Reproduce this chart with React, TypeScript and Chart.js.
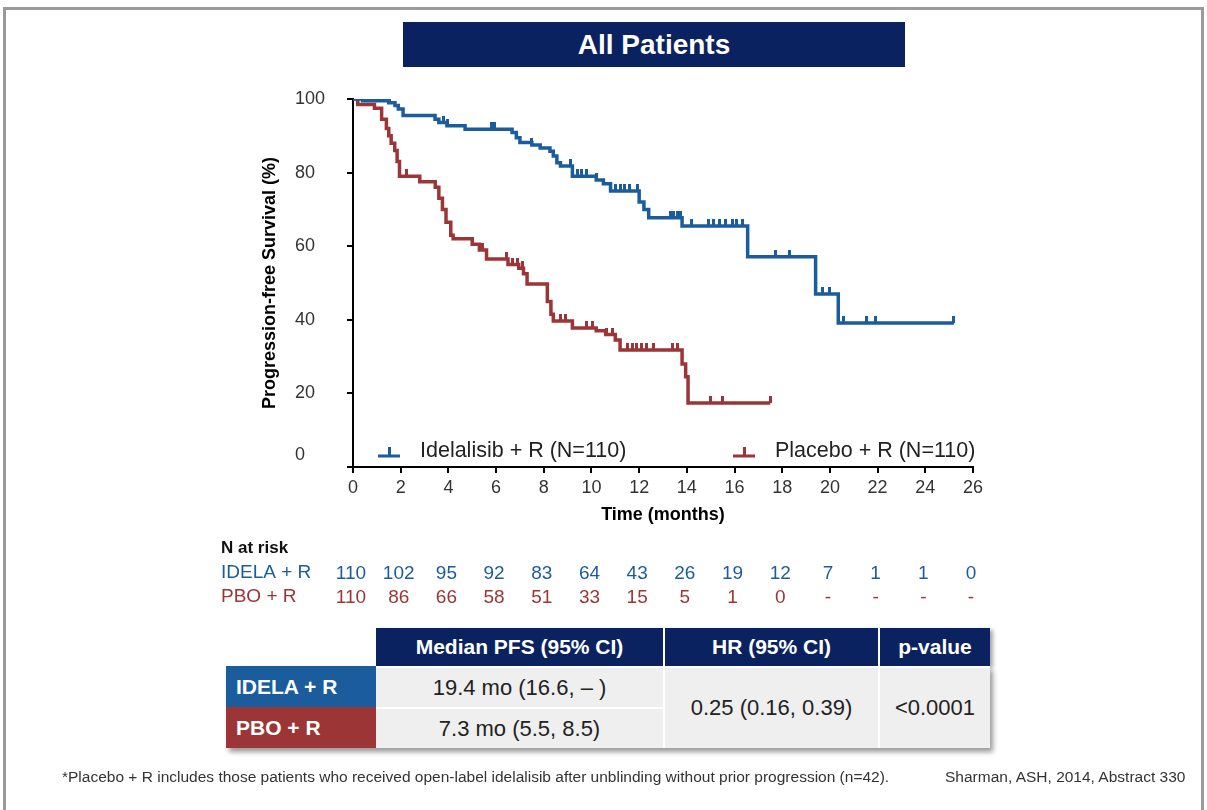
import React, { useEffect, useRef } from 'react';
import { Chart, registerables } from 'chart.js';

Chart.register(...registerables);

const FONT = "'Liberation Sans', Arial, Helvetica, sans-serif";
const BLUE = '#1b5c9c';
const RED = '#9c3535';
const NAVY = '#0b2261';
const GRAY_CELL = '#efefef';

// ---- Data ----
const xTickValues = [0, 2, 4, 6, 8, 10, 12, 14, 16, 18, 20, 22, 24, 26];
const yTickValues = [0, 20, 40, 60, 80, 100];

const idelaTimes = [0, 0.4, 1.5, 1.76, 1.9, 2.1, 3.44, 3.6, 3.94, 4.7, 6.67, 6.85, 7.0, 7.5, 7.85, 8.26, 8.4, 8.55, 8.7, 9.2, 10.2, 10.5, 10.8, 12.0, 12.2, 12.4, 13.8, 16.55, 19.4, 20.35, 25.2];
const idelaSurv = [100, 99.5, 99.0, 98.2, 97.3, 95.5, 94.5, 93.6, 92.7, 91.8, 90.9, 89.5, 88.2, 87.5, 86.7, 85.8, 84.5, 82.7, 81.8, 79.0, 78.0, 77.0, 75.0, 72.0, 70.0, 67.7, 65.5, 57.1, 47.0, 39.1, 39.1];

const pboTimes = [0, 0.2, 0.9, 1.2, 1.4, 1.5, 1.6, 1.75, 1.85, 1.95, 2.8, 3.45, 3.6, 3.75, 3.9, 4.1, 4.2, 5.0, 5.3, 5.6, 6.5, 6.95, 7.15, 7.3, 8.15, 8.3, 8.4, 9.2, 10.2, 10.6, 11.0, 11.2, 13.8, 13.95, 14.05, 17.5];
const pboSurv = [100, 98.5, 97.5, 94.5, 92, 90, 88, 86, 83, 79, 77.5, 76, 73, 70, 66.5, 63, 62, 60.5, 59, 56.5, 55, 54, 52.5, 49.7, 45, 41.5, 39.7, 37.8, 37, 36, 34.5, 31.8, 28, 24.5, 17.4, 17.4];

const idelaCensor = [0.15, 0.3, 1.0, 1.3, 1.55, 3.8, 3.95, 5.8, 5.95, 7.5, 9.1, 9.4, 9.6, 9.8, 10.2, 11.0, 11.2, 11.4, 11.6, 11.95, 13.3, 13.45, 13.6, 13.75, 14.2, 14.9, 15.1, 15.35, 15.6, 15.9, 16.1, 16.35, 17.7, 18.3, 19.7, 20.0, 20.55, 21.55, 21.9, 25.2];
const pboCensor = [2.25, 5.0, 5.45, 6.45, 6.7, 6.9, 7.1, 8.7, 8.9, 9.2, 9.8, 10.05, 10.65, 10.9, 11.5, 11.7, 11.9, 12.1, 12.3, 12.6, 13.4, 13.6, 15.0, 15.5, 17.5];

const seriesLabels = ['Idelalisib + R (N=110)', 'Placebo + R (N=110)'];
const riskRowLabels = ['IDELA + R', 'PBO + R'];
const riskIdela = ['110', '102', '95', '92', '83', '64', '43', '26', '19', '12', '7', '1', '1', '0'];
const riskPbo = ['110', '86', '66', '58', '51', '33', '15', '5', '1', '0', '-', '-', '-', '-'];

const tableHeaders = ['Median PFS (95% CI)', 'HR (95% CI)', 'p-value'];
const tableRows = ['IDELA + R', 'PBO + R'];
const tableMedians = ['19.4 mo (16.6, \u2013 )', '7.3 mo (5.5, 8.5)'];
const tableHR = '0.25 (0.16, 0.39)';
const tableP = '<0.0001';

function stepValue(times: number[], surv: number[], t: number) {
  let v = surv[0];
  for (let i = 0; i < times.length; i++) {
    if (times[i] <= t) v = surv[i];
  }
  return v;
}

function makeTick(color: string) {
  const c = document.createElement('canvas');
  c.width = 3;
  c.height = 14;
  const g = c.getContext('2d')!;
  g.fillStyle = color;
  g.fillRect(0, 0, 3, 7);
  return c;
}

const extrasPlugin = {
  id: 'kmExtras',
  afterDraw(chart: any) {
    const ctx = chart.ctx;
    const ca = chart.chartArea;
    const xs = chart.scales.x;
    const ys = chart.scales.y;
    ctx.save();

    // y-axis title
    ctx.save();
    ctx.translate(270, (ca.top + ca.bottom) / 2);
    ctx.rotate(-Math.PI / 2);
    ctx.font = `bold 18px ${FONT}`;
    ctx.fillStyle = '#000';
    ctx.textAlign = 'center';
    ctx.textBaseline = 'middle';
    ctx.fillText('Progression-free Survival (%)', 0, 0);
    ctx.restore();

    // y "0" label (raised in reference)
    ctx.font = `18px ${FONT}`;
    ctx.fillStyle = '#333';
    ctx.textAlign = 'left';
    ctx.textBaseline = 'middle';
    ctx.fillText(String(yTickValues[0]), ys.left, ys.getPixelForValue(yTickValues[0]) - 12);

    // legend inside plot
    const ly = ca.bottom - 11;
    const entries = [
      { x: ca.left + 25, color: BLUE, label: chart.data.datasets[0].label },
      { x: ca.left + 380, color: RED, label: chart.data.datasets[1].label },
    ];
    entries.forEach((e) => {
      ctx.fillStyle = e.color;
      ctx.fillRect(e.x, ly - 1.5, 22, 3);
      ctx.fillRect(e.x + 10, ly - 9, 3, 8);
      ctx.fillStyle = '#222';
      ctx.font = `21.5px ${FONT}`;
      ctx.textAlign = 'left';
      ctx.textBaseline = 'middle';
      ctx.fillText(e.label, e.x + 42, ly - 5);
    });

    // risk table
    const base = ca.bottom;
    ctx.textBaseline = 'middle';
    ctx.textAlign = 'left';
    ctx.font = `bold 17px ${FONT}`;
    ctx.fillStyle = '#111';
    ctx.fillText('N at risk', 221, base + 81);
    ctx.font = `19px ${FONT}`;
    ctx.fillStyle = BLUE;
    ctx.fillText(riskRowLabels[0], 221, base + 106);
    ctx.fillStyle = RED;
    ctx.fillText(riskRowLabels[1], 221, base + 130);
    ctx.textAlign = 'center';
    ctx.font = `19px ${FONT}`;
    xTickValues.forEach((m, i) => {
      const px = xs.getPixelForValue(m);
      ctx.fillStyle = BLUE;
      ctx.fillText(riskIdela[i], px - 2, base + 107);
      ctx.fillStyle = RED;
      ctx.fillText(riskPbo[i], px - 2, base + 131);
    });
    ctx.restore();
  },
};

export default function App() {
  const ref = useRef<HTMLCanvasElement>(null);

  useEffect(() => {
    if (!ref.current) return;
    const blueTick = makeTick(BLUE);
    const redTick = makeTick(RED);
    const chart = new Chart(ref.current, {
      type: 'line',
      data: {
        datasets: [
          {
            label: seriesLabels[0],
            data: idelaTimes.map((t, i) => ({ x: t, y: idelaSurv[i] })),
            borderColor: BLUE,
            borderWidth: 3.5,
            stepped: true,
            pointRadius: 0,
            fill: false,
          },
          {
            label: seriesLabels[1],
            data: pboTimes.map((t, i) => ({ x: t, y: pboSurv[i] })),
            borderColor: RED,
            borderWidth: 3.5,
            stepped: true,
            pointRadius: 0,
            fill: false,
          },
          {
            label: 'idela censor',
            data: idelaCensor.map((t) => ({ x: t, y: stepValue(idelaTimes, idelaSurv, t) })),
            showLine: false,
            pointStyle: blueTick as any,
            pointRadius: 4,
          },
          {
            label: 'pbo censor',
            data: pboCensor.map((t) => ({ x: t, y: stepValue(pboTimes, pboSurv, t) })),
            showLine: false,
            pointStyle: redTick as any,
            pointRadius: 4,
          },
        ],
      },
      options: {
        responsive: false,
        animation: false,
        layout: { padding: { left: 295, right: 234, top: 99, bottom: 280 } },
        plugins: { legend: { display: false }, tooltip: { enabled: false }, title: { display: false } },
        scales: {
          x: {
            type: 'linear',
            min: 0,
            max: 26,
            afterBuildTicks: (s: any) => { s.ticks = xTickValues.map((v) => ({ value: v })); },
            afterFit: (s: any) => { s.height = 63; },
            ticks: { padding: 4, maxRotation: 0, autoSkip: false, font: { family: FONT, size: 18 }, color: '#333' },
            grid: { drawOnChartArea: false, drawTicks: true, tickLength: 6, color: '#000', lineWidth: 2 },
            border: { display: true, color: '#000', width: 2 },
            title: { display: true, text: 'Time (months)', font: { family: FONT, size: 18, weight: 'bold' }, color: '#000', padding: { top: 4, bottom: 4 } },
          },
          y: {
            type: 'linear',
            min: 0,
            max: 100,
            afterBuildTicks: (s: any) => { s.ticks = yTickValues.map((v) => ({ value: v })); },
            afterFit: (s: any) => { s.width = 58; },
            ticks: {
              crossAlign: 'far',
              padding: 20,
              font: { family: FONT, size: 18 },
              color: '#333',
              callback: (v: any) => (v === 0 ? '' : String(v)),
            },
            grid: { drawOnChartArea: false, drawTicks: true, tickLength: 6, color: '#000', lineWidth: 2 },
            border: { display: true, color: '#000', width: 2 },
          },
        },
      } as any,
      plugins: [extrasPlugin],
    });
    return () => chart.destroy();
  }, []);

  const cellText: React.CSSProperties = {
    position: 'absolute',
    display: 'flex',
    alignItems: 'center',
    justifyContent: 'center',
    fontFamily: FONT,
    fontSize: 22,
    boxSizing: 'border-box',
  };

  return (
    <div style={{ position: 'absolute', left: 0, top: 0, width: 1207, height: 810, overflow: 'hidden', background: '#fff', fontFamily: FONT }}>
      {/* frame */}
      <div style={{ position: 'absolute', left: 3, top: 7, width: 1201, height: 820, borderLeft: '3px solid #9a9a9a', borderTop: '3px solid #9a9a9a', borderRight: '3px solid #9a9a9a', boxSizing: 'border-box' }} />
      <canvas ref={ref} width={1207} height={810} style={{ position: 'absolute', left: 0, top: 0, width: 1207, height: 810 }} />
      {/* title */}
      <div style={{ ...cellText, left: 403, top: 22, width: 502, height: 45, background: NAVY, color: '#fff', fontWeight: 'bold', fontSize: 28 }}>All Patients</div>

      {/* summary table */}
      <div style={{ position: 'absolute', left: 376, top: 628, width: 614, height: 38, boxShadow: '3px 2px 4px rgba(0,0,0,0.35)' }} />
      <div style={{ position: 'absolute', left: 226, top: 666, width: 764, height: 82, boxShadow: '3px 4px 5px rgba(0,0,0,0.4)' }} />
      <div style={{ ...cellText, left: 376, top: 628, width: 287, height: 38, background: NAVY, color: '#fff', fontWeight: 'bold', fontSize: 21 }}>{tableHeaders[0]}</div>
      <div style={{ ...cellText, left: 663, top: 628, width: 215, height: 38, background: NAVY, color: '#fff', fontWeight: 'bold', fontSize: 21, borderLeft: '2px solid #fff' }}>{tableHeaders[1]}</div>
      <div style={{ ...cellText, left: 878, top: 628, width: 112, height: 38, background: NAVY, color: '#fff', fontWeight: 'bold', fontSize: 21, borderLeft: '2px solid #fff' }}>{tableHeaders[2]}</div>

      <div style={{ ...cellText, left: 226, top: 666, width: 150, height: 41, background: BLUE, color: '#fff', fontWeight: 'bold', fontSize: 21, justifyContent: 'flex-start', paddingLeft: 10 }}>{tableRows[0]}</div>
      <div style={{ ...cellText, left: 226, top: 707, width: 150, height: 41, background: RED, color: '#fff', fontWeight: 'bold', fontSize: 21, justifyContent: 'flex-start', paddingLeft: 10 }}>{tableRows[1]}</div>
      <div style={{ ...cellText, left: 376, top: 666, width: 287, height: 41, background: GRAY_CELL, color: '#222', borderTop: '2px solid #fff' }}>{tableMedians[0]}</div>
      <div style={{ ...cellText, left: 376, top: 707, width: 287, height: 41, background: GRAY_CELL, color: '#222', borderTop: '2px solid #fff' }}>{tableMedians[1]}</div>
      <div style={{ ...cellText, left: 663, top: 666, width: 215, height: 82, background: GRAY_CELL, color: '#222', borderLeft: '2px solid #fff', borderTop: '2px solid #fff' }}>{tableHR}</div>
      <div style={{ ...cellText, left: 878, top: 666, width: 112, height: 82, background: GRAY_CELL, color: '#222', borderLeft: '2px solid #fff', borderTop: '2px solid #fff' }}>{tableP}</div>

      {/* footnote */}
      <div style={{ position: 'absolute', left: 62, top: 768, fontSize: 15.5, color: '#333', whiteSpace: 'nowrap' }}>
        *Placebo + R includes those patients who received open-label idelalisib after unblinding without prior progression (n=42).
      </div>
      <div style={{ position: 'absolute', left: 945, top: 768, fontSize: 15.5, color: '#333', whiteSpace: 'nowrap' }}>
        Sharman, ASH, 2014, Abstract 330
      </div>
    </div>
  );
}
